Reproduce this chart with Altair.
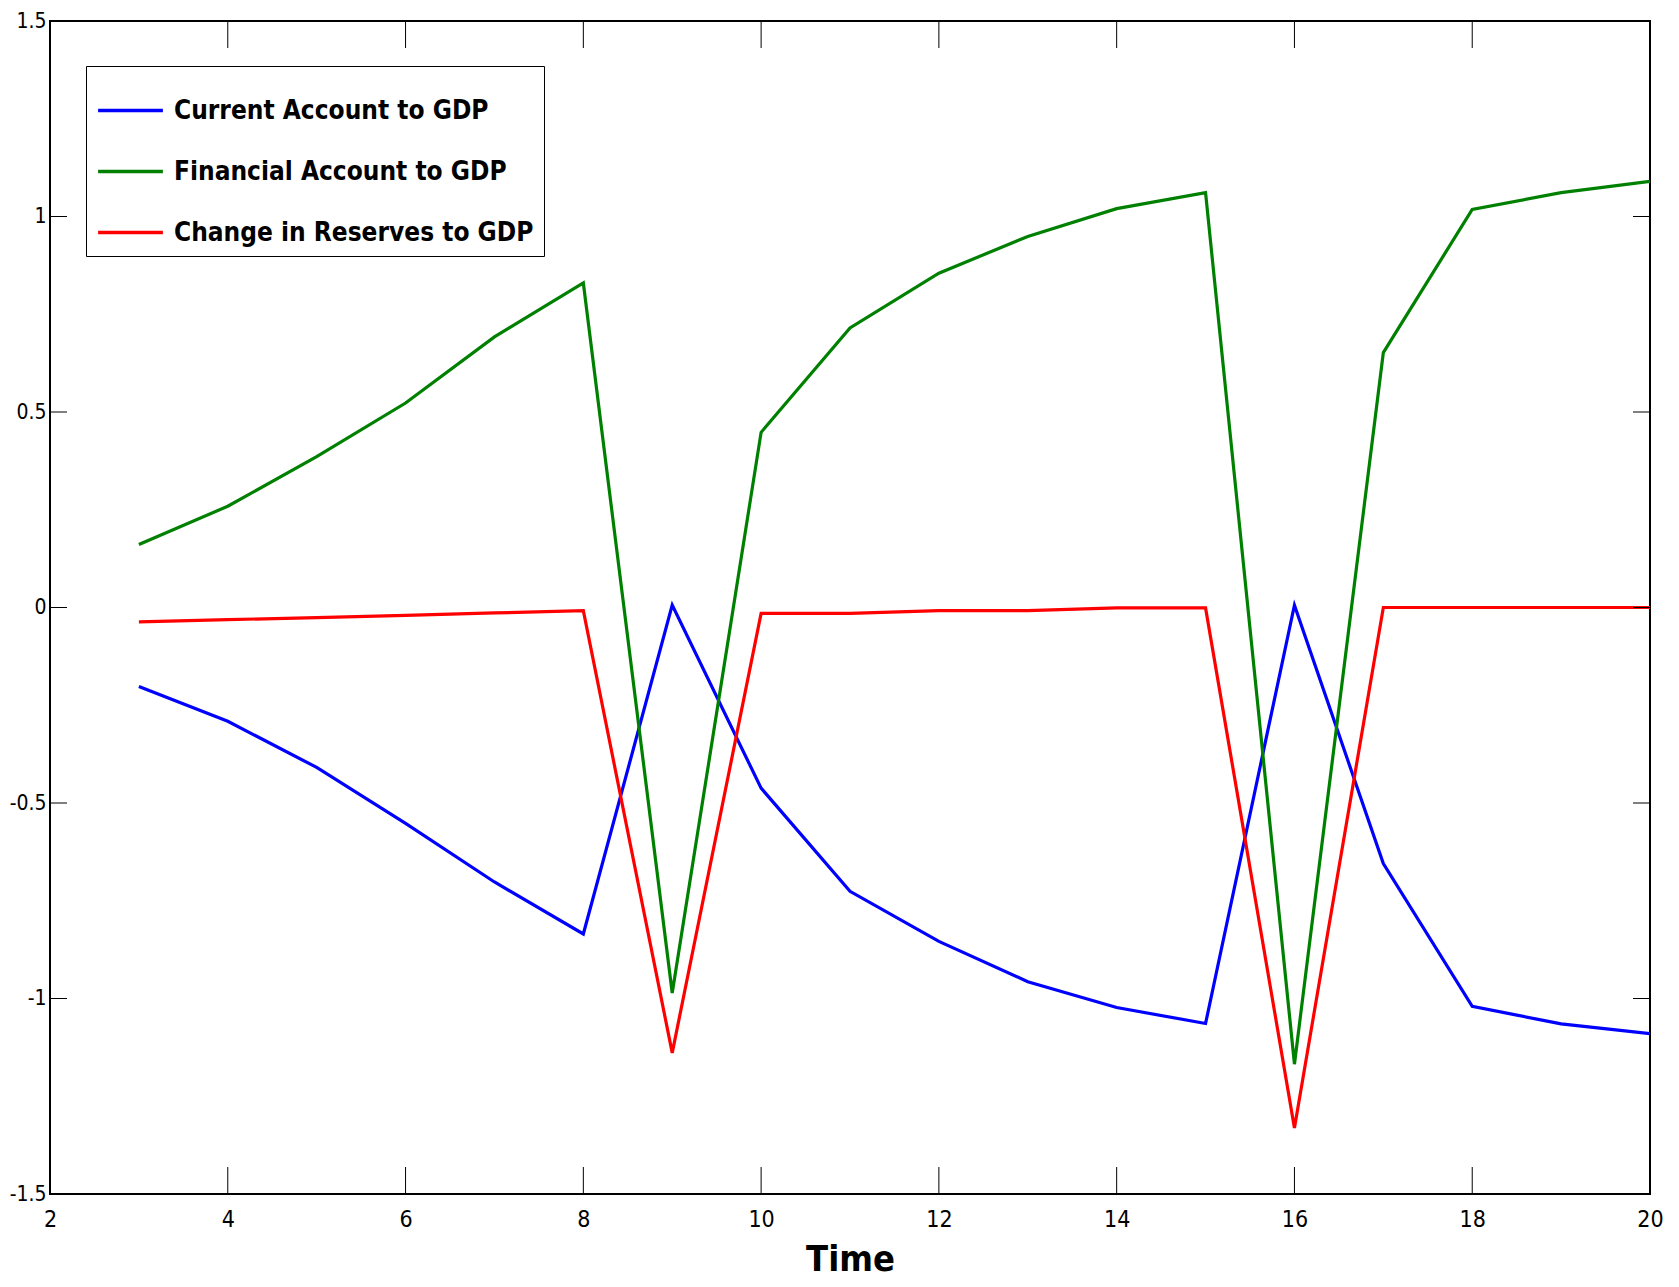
import altair as alt
import pandas as pd

# ---- data ----
time = list(range(3, 21))
current_account = [-0.202, -0.291, -0.409, -0.552, -0.702, -0.835, 0.006, -0.462, -0.726,
                   -0.854, -0.957, -1.023, -1.064, 0.006, -0.655, -1.020, -1.065, -1.090]
financial_account = [0.161, 0.259, 0.386, 0.523, 0.692, 0.830, -0.986, 0.448, 0.715,
                     0.855, 0.949, 1.020, 1.061, -1.168, 0.652, 1.018, 1.061, 1.090]
reserves_change = [-0.037, -0.031, -0.026, -0.020, -0.014, -0.008, -1.139, -0.015, -0.015,
                   -0.008, -0.008, -0.001, -0.001, -1.331, 0.0, 0.0, 0.0, 0.0]

series_names = ["Current Account to GDP", "Financial Account to GDP", "Change in Reserves to GDP"]
series_colors = ["#0000FF", "#008000", "#FF0000"]

x_tick_labels = [2, 4, 6, 8, 10, 12, 14, 16, 18, 20]
y_tick_labels = [-1.5, -1, -0.5, 0, 0.5, 1, 1.5]
x_inner_ticks = [4, 6, 8, 10, 12, 14, 16, 18]
y_inner_ticks = [-1, -0.5, 0, 0.5, 1]

FONT = "'DejaVu Sans Condensed', 'Liberation Sans', sans-serif"
W, H = 1600, 1173

rows = []
for name, vals in zip(series_names, [current_account, financial_account, reserves_change]):
    for t, v in zip(time, vals):
        rows.append({"Time": t, "Value": v, "Series": name})
df = pd.DataFrame(rows)

xscale = alt.Scale(domain=[2, 20], nice=False, zero=False)
yscale = alt.Scale(domain=[-1.5, 1.5], nice=False, zero=False)

x_axis = alt.Axis(values=x_tick_labels, title="Time", ticks=False, domain=False,
                  grid=False, labelFont=FONT, labelFontSize=23, labelColor="black",
                  labelPadding=14, titleFont=FONT, titleFontSize=36,
                  titleFontWeight="bold", titleColor="black", titlePadding=11,
                  labelFlush=False, labelOverlap=False)
y_axis = alt.Axis(values=y_tick_labels, title=None, ticks=False, domain=False,
                  grid=False, labelFont=FONT, labelFontSize=21, labelColor="black",
                  labelPadding=4, labelFlush=False, labelOverlap=False,
                  labelExpr="datum.value < 0 ? '-' + format(-datum.value, '~g') : format(datum.value, '~g')")

lines = alt.Chart(df).mark_line(strokeWidth=3.2, clip=True).encode(
    x=alt.X("Time:Q", scale=xscale, axis=x_axis),
    y=alt.Y("Value:Q", scale=yscale, axis=y_axis),
    color=alt.Color("Series:N",
                    scale=alt.Scale(domain=series_names, range=series_colors),
                    sort=series_names,
                    legend=alt.Legend(title=None, orient="none", legendX=36, legendY=45,
                                      direction="vertical", symbolType="stroke",
                                      symbolSize=4200, symbolStrokeWidth=3.5,
                                      labelFont=FONT, labelFontSize=26,
                                      labelFontWeight="bold", labelColor="black",
                                      labelOffset=9, labelLimit=600, rowPadding=13,
                                      padding=10, strokeColor="black", fillColor="white")),
)

xt = pd.DataFrame({"Time": x_inner_ticks})
yt = pd.DataFrame({"Value": y_inner_ticks})

top_ticks = alt.Chart(xt).mark_rule(color="black", strokeWidth=1).encode(
    x=alt.X("Time:Q", scale=xscale, axis=x_axis), y=alt.value(0), y2=alt.value(27))
bottom_ticks = alt.Chart(xt).mark_rule(color="black", strokeWidth=1).encode(
    x=alt.X("Time:Q", scale=xscale, axis=x_axis), y=alt.value(H), y2=alt.value(H - 27))
left_ticks = alt.Chart(yt).mark_rule(color="black", strokeWidth=1).encode(
    y=alt.Y("Value:Q", scale=yscale, axis=y_axis), x=alt.value(0), x2=alt.value(17))
right_ticks = alt.Chart(yt).mark_rule(color="black", strokeWidth=1).encode(
    y=alt.Y("Value:Q", scale=yscale, axis=y_axis), x=alt.value(W), x2=alt.value(W - 17))

chart = alt.layer(lines, top_ticks, bottom_ticks, left_ticks, right_ticks).properties(
    width=W, height=H,
    autosize=alt.AutoSizeParams(type="none"),
    padding={"left": 42, "top": 13, "right": 21, "bottom": 85},
    background="white",
).configure_view(stroke="black", strokeWidth=2)

chart.save("out.html", embed_options={"renderer": "svg", "actions": False})
